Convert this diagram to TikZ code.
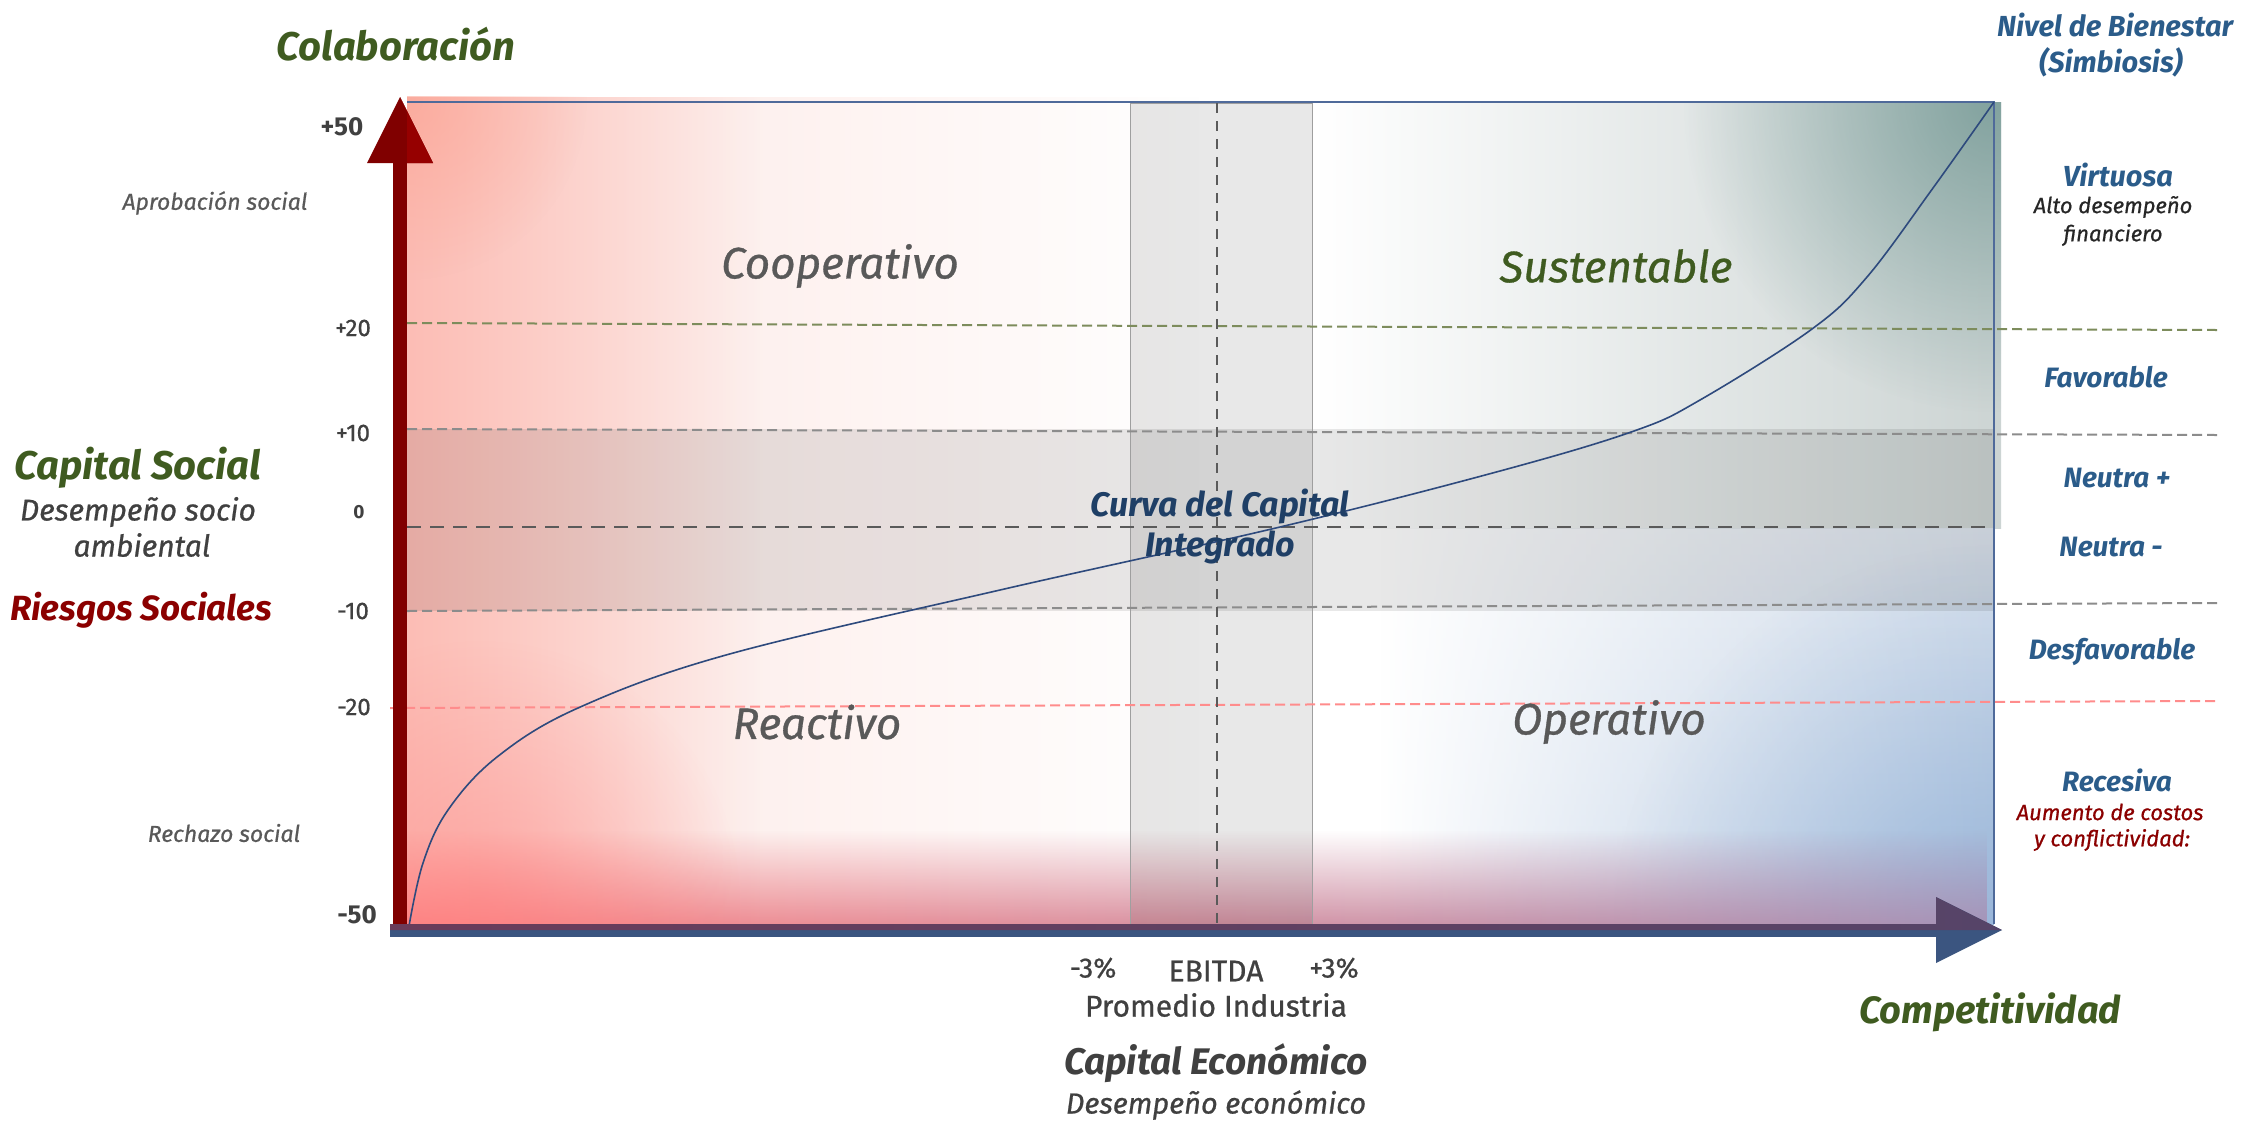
\documentclass[tikz,border=0pt]{standalone}
\usepackage{fontspec}
\setmainfont{Fira Sans}
\usetikzlibrary{fadings}
\definecolor{cGreen}{HTML}{3F5B20}
\definecolor{cRed}{HTML}{800000}
\definecolor{cRedHi}{HTML}{960000}
\definecolor{cDarkRed}{HTML}{8B0000}
\definecolor{cBlue}{HTML}{2B5C8A}
\definecolor{cCurveLbl}{HTML}{1F3F66}
\definecolor{cTxt}{HTML}{404040}
\definecolor{cQuad}{HTML}{595959}
\definecolor{cAxisBlue}{HTML}{3B5580}
\definecolor{cAxisPurp}{HTML}{564468}
\definecolor{cAxisPurpL}{HTML}{6A3C5A}
\definecolor{cBoxLine}{HTML}{4F6A9A}
\definecolor{cCurve}{HTML}{2E4A7D}
\definecolor{cPinkL}{HTML}{FCBDB5}
\definecolor{cPinkP}{HTML}{FDE6E2}
\definecolor{cSalmon}{HTML}{FA9E8C}
\definecolor{cRedB}{HTML}{FF8080}
\definecolor{cPinkM}{HTML}{FFCDD0}
\definecolor{cPurp}{HTML}{A890B4}
\definecolor{cGG}{HTML}{CCD4D3}
\definecolor{cCorner}{HTML}{7A9D99}
\definecolor{cBlueT}{HTML}{DCE4EE}
\definecolor{cBlueB}{HTML}{A6BEDC}
\definecolor{cBlueC}{HTML}{8FB0D8}
\definecolor{cOlive}{HTML}{7D8C5C}
\definecolor{cRedLine}{HTML}{FF8C8C}
\definecolor{cGrayLine}{HTML}{8C8C8C}
\definecolor{cZero}{HTML}{5A5A5A}
\tikzfading[name=fadeE, left color=transparent!0, right color=transparent!100]
\tikzfading[name=fadeW, left color=transparent!100, right color=transparent!0]
\tikzfading[name=fadeUp, top color=transparent!100, bottom color=transparent!0]
\tikzfading[name=fadeRad, inner color=transparent!0, outer color=transparent!100]
\newcommand{\fsz}[1]{\fontsize{#1pt}{#1pt}\selectfont}
\newcommand{\med}{\addfontfeatures{FakeBold=0.7}}
\tikzset{
  lbl/.style={inner sep=0pt, anchor=center},
  hdB/.style={lbl, font=\fsz{#1}\bfseries\itshape},
  hdI/.style={lbl, font=\fsz{#1}\itshape\med},
  hdU/.style={lbl, font=\fsz{#1}\med},
  numlbl/.style={lbl, text=cTxt, font=\fsz{24}\med},
  gridline/.style={dash pattern=on 10pt off 5pt, line width=2pt},
}
\begin{document}
\begin{tikzpicture}[x=1pt,y=-1pt]
\useasboundingbox (0,0) rectangle (2266,1122);
\fill[white] (0,0) rectangle (2266,1122);

% ---------- backgrounds ----------
\begin{scope}
  \clip (1312,102) rectangle (2001,528);
  \shade[left color=white, right color=cGG] (1312,102) rectangle (2001,528);
  \fill[cCorner, path fading=fadeRad, opacity=0.9] (1994,102) circle (310);
\end{scope}
\begin{scope}
  \clip (407,96) rectangle (1994,924);
  \shade[top color=cBlueT, bottom color=cBlueB, path fading=fadeW] (1380,528) rectangle (1994,924);
  \fill[cBlueC, path fading=fadeRad, opacity=0.5] (1994,924) circle (380);
  \fill[cPinkP, path fading=fadeE] (407,96) rectangle (1200,924);
  \fill[cPinkL, path fading=fadeE] (407,96) rectangle (760,924);
  \fill[cSalmon, path fading=fadeRad, opacity=0.55] (407,100) circle (180);
  \shade[left color=cRedB, middle color=cPinkM, right color=cPurp, path fading=fadeUp, opacity=0.9] (407,830) rectangle (1994,924);
  \fill[cRedB, path fading=fadeRad, opacity=0.45] (480,900) circle (260);
  \fill[black, opacity=0.09] (407,429) rectangle (1994,611);
\end{scope}
% vertical band
\fill[black, opacity=0.09] (1130,103) rectangle (1312,924);
\draw[gray!75, line width=1pt] (1130,924) -- (1130,103) -- (1312,103) -- (1312,924);

% ---------- grid lines ----------
\draw[gridline, cOlive] (407,323) -- (2217,330);
\draw[gridline, cGrayLine] (407,429) -- (2217,435);
\draw[gridline, cGrayLine] (407,611) -- (2217,603);
\draw[gridline, cRedLine] (390,708) -- (2217,701);
\draw[cZero, dash pattern=on 14pt off 9pt, line width=2.5pt] (407,527) -- (1985,527);
\draw[cZero, dash pattern=on 10pt off 8pt, line width=2.5pt] (1217,103) -- (1217,924);

% plot frame
\draw[cBoxLine, line width=1.3pt] (407,102) -- (1994,102) -- (1994,924);

% ---------- integrated capital curve ----------
\draw[cCurve, line width=1.6pt] plot[smooth, tension=0.6] coordinates {
  (409,926) (423,863) (448,810) (497,757) (578,708) (726,655) (1000,590)
  (1280,527) (1500,471) (1634,431) (1700,400) (1812,329) (1867,277)
  (1933,188) (1994,102)};

% ---------- axes ----------
\fill[cRed] (393,163) rectangle (407,924);
\fill[cRed] (367,163) -- (400,97) -- (433,163) -- cycle;
\fill[cRedHi] (400,97) -- (433,163) -- (407,163) -- (407,112) -- cycle;
\fill[cAxisBlue] (390,924) rectangle (1936,937);
\fill[cAxisBlue] (1936,897) -- (2002,930) -- (1936,963) -- cycle;
\shade[left color=cAxisPurpL, right color=cAxisPurp] (390,924) -- (1936,924) -- (1936,897) -- (2002,930) -- (390,930) -- cycle;

% ---------- left labels ----------
\node[hdB=40, text=cGreen] (colab) at (396,44) {Colaboración};
\node[lbl, text=cTxt, font=\fsz{26}\bfseries] (p50) at (342,127) {+50};
\node[hdI=23, text=cQuad] (aprob) at (215,203) {Aprobación social};
\node[numlbl] (p20) at (353,328) {+20};
\node[numlbl] (p10) at (353,433) {+10};
\node[lbl, text=cTxt, font=\fsz{19}\bfseries] (z0) at (359,512) {0};
\node[numlbl] (m10) at (353,611) {-10};
\node[numlbl] (m20) at (354,707) {-20};
\node[lbl, text=cTxt, font=\fsz{26}\bfseries] (m50) at (357,915) {-50};
\node[hdI=23, text=cQuad] (rech) at (224,833) {Rechazo social};
\node[hdB=40, text=cGreen] (capsoc) at (138,468) {Capital Social};
\node[hdI=30, text=cTxt] (des1) at (138,512) {Desempeño socio};
\node[hdI=30, text=cTxt] (des2) at (142,545) {ambiental};
\node[hdB=35, text=cDarkRed] (riesg) at (141,610) {Riesgos Sociales};

% ---------- quadrant labels ----------
\node[hdI=44, text=cQuad] (coop) at (840,266) {Cooperativo};
\node[hdI=44, text=cGreen] (sust) at (1616,266) {Sustentable};
\node[hdI=44, text=cQuad] (reac) at (817,722) {Reactivo};
\node[hdI=44, text=cQuad] (oper) at (1609,722) {Operativo};
\node[hdB=34, text=cCurveLbl] (curva1) at (1220,507) {Curva del Capital};
\node[hdB=34, text=cCurveLbl] (curva2) at (1220,547) {Integrado};

% ---------- right labels ----------
\node[hdB=29, text=cBlue] (niv1) at (2115,25) {Nivel de Bienestar};
\node[hdB=29, text=cBlue] (niv2) at (2111,62) {(Simbiosis)};
\node[hdB=29, text=cBlue] (virt) at (2118,175) {Virtuosa};
\node[hdI=22, text=black!85] (alto1) at (2113,207) {Alto desempeño};
\node[hdI=22, text=black!85] (alto2) at (2113,235) {financiero};
\node[hdB=28, text=cBlue] (fav) at (2106,377) {Favorable};
\node[hdB=28, text=cBlue] (neup) at (2117,478) {Neutra +};
\node[hdB=28, text=cBlue] (neum) at (2111,547) {Neutra -};
\node[hdB=28, text=cBlue] (desf) at (2112,652) {Desfavorable};
\node[hdB=28, text=cBlue] (rece) at (2117,780) {Recesiva};
\node[hdI=22, text=cDarkRed] (aum1) at (2110,812) {Aumento de costos};
\node[hdI=22, text=cDarkRed] (aum2) at (2112,840) {y conflictividad:};

% ---------- bottom labels ----------
\node[hdU=28, text=cTxt] (m3) at (1093,968) {-3\%};
\node[hdU=30, text=cTxt] (ebitda) at (1216,971) {EBITDA};
\node[hdU=28, text=cTxt] (p3) at (1334,968) {+3\%};
\node[hdU=30, text=cTxt] (prom) at (1216,1005) {Promedio Industria};
\node[hdB=37, text=cTxt] (capeco) at (1216,1063) {Capital Económico};
\node[hdI=29, text=cTxt] (deseco) at (1216,1105) {Desempeño económico};
\node[hdB=38, text=cGreen] (compet) at (1990,1012) {Competitividad};
\end{tikzpicture}
\end{document}
